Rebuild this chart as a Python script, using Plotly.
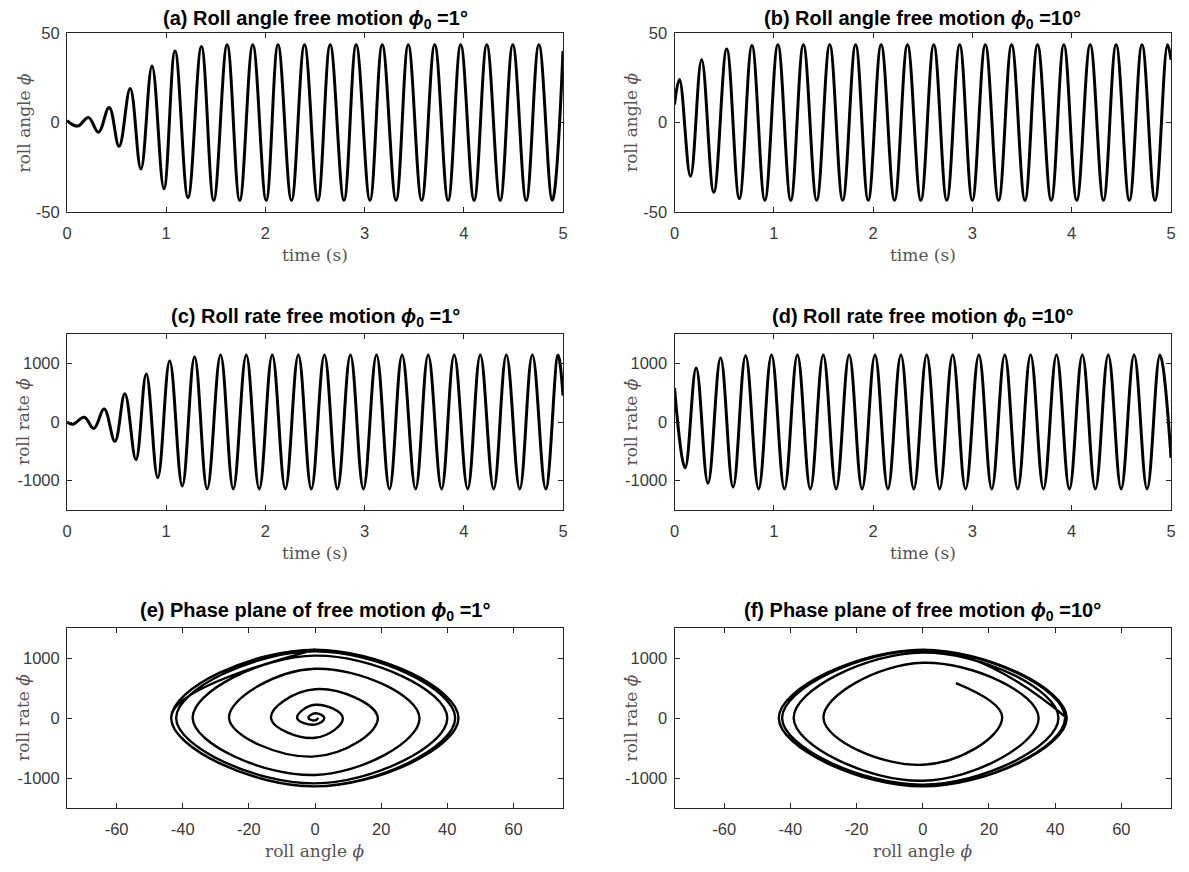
import plotly.graph_objects as go

# page body has an 8 px margin, so the figure is drawn 8 px in and 8 px down
OFF = 8
W, H = 1189 - OFF, 872 - OFF

# ---------------- data ----------------
# (a) roll angle, phi0 = 1 deg : start, alternating extrema, end
a_time = [0, 0.108, 0.216, 0.317, 0.425, 0.525, 0.637, 0.745, 0.857, 0.977, 1.089,
          1.220, 1.355, 1.479, 1.614, 1.741, 1.873, 2.008, 2.127, 2.263, 2.394, 2.529,
          2.653, 2.792, 2.915, 3.054, 3.178, 3.317, 3.440, 3.575, 3.707, 3.842, 3.969,
          4.104, 4.232, 4.367, 4.494, 4.629, 4.757, 4.892, 5.0]
a_phi = [1, -2, 2.8, -5.4, 8.4, -13.3, 19, -26, 31.6, -37, 40,
         -42, 42.4, -43.5, 43.4, -43.5, 43.4, -43.5, 43.4, -43.5, 43.4, -43.5,
         43.4, -43.5, 43.4, -43.5, 43.4, -43.5, 43.4, -43.5, 43.4, -43.5, 43.4,
         -43.5, 43.4, -43.5, 43.4, -43.5, 43.4, -43.5, 40]

# (c) roll rate, phi0 = 1 deg
c_time = [0, 0.058, 0.174, 0.270, 0.375, 0.483, 0.583, 0.695, 0.799, 0.915, 1.035,
          1.162, 1.286, 1.413, 1.548, 1.676, 1.807, 1.938, 2.069, 2.201, 2.332, 2.463,
          2.595, 2.726, 2.857, 2.988, 3.120, 3.251, 3.378, 3.514, 3.641, 3.776, 3.903,
          4.039, 4.166, 4.301, 4.429, 4.564, 4.691, 4.826, 4.950, 5.0]
c_rate = [0, -40, 80, -110, 220, -330, 480, -640, 820, -950, 1040,
          -1090, 1110, -1140, 1140, -1140, 1140, -1140, 1140, -1140, 1140, -1140,
          1140, -1140, 1140, -1140, 1140, -1140, 1140, -1140, 1140, -1140, 1140,
          -1140, 1140, -1140, 1140, -1140, 1140, -1140, 1140, 450]

# (b) roll angle, phi0 = 10 deg
b_time = [0, 0.050, 0.161, 0.273, 0.396, 0.526, 0.653, 0.780, 0.910, 1.041, 1.171,
          1.298, 1.432, 1.563, 1.694, 1.824, 1.951, 2.081, 2.216, 2.346, 2.481, 2.611,
          2.742, 2.872, 2.999, 3.130, 3.264, 3.395, 3.529, 3.656, 3.794, 3.921, 4.051,
          4.186, 4.320, 4.447, 4.581, 4.708, 4.839, 4.965, 5.0]
b_phi = [10, 24, -30, 35, -39, 41, -42.5, 43, -43.5, 43.5, -43.5,
         43.5, -43.5, 43.5, -43.5, 43.5, -43.5, 43.5, -43.5, 43.5, -43.5, 43.5,
         -43.5, 43.5, -43.5, 43.5, -43.5, 43.5, -43.5, 43.5, -43.5, 43.5, -43.5,
         43.5, -43.5, 43.5, -43.5, 43.5, -43.5, 43.5, 35]

# (d) roll rate, phi0 = 10 deg
d_time = [0, 0.107, 0.218, 0.337, 0.464, 0.590, 0.716, 0.847, 0.977, 1.107, 1.238,
          1.368, 1.498, 1.628, 1.759, 1.889, 2.019, 2.149, 2.280, 2.410, 2.540, 2.670,
          2.801, 2.931, 3.065, 3.195, 3.326, 3.456, 3.586, 3.716, 3.847, 3.977, 4.107,
          4.238, 4.368, 4.498, 4.628, 4.759, 4.889, 5.0]
d_rate = [580, -780, 920, -1045, 1090, -1110, 1130, -1140, 1140, -1140, 1140,
          -1140, 1140, -1140, 1140, -1140, 1140, -1140, 1140, -1140, 1140, -1140,
          1140, -1140, 1140, -1140, 1140, -1140, 1140, -1140, 1140, -1140, 1140,
          -1140, 1140, -1140, 1140, -1140, 1140, -610]

time_ticks = [0, 1, 2, 3, 4, 5]
time_tick_text = ["0", "1", "2", "3", "4", "5"]
angle_ticks = [-50, 0, 50]
angle_tick_text = ["-50", "0", "50"]
rate_ticks = [-1000, 0, 1000]
rate_tick_text = ["-1000", "0", "1000"]
phase_x_ticks = [-60, -40, -20, 0, 20, 40, 60]
phase_x_tick_text = ["-60", "-40", "-20", "0", "20", "40", "60"]

titles = [
    "(a) Roll angle free motion <i>ϕ</i><sub>0</sub> =1°",
    "(b) Roll angle free motion <i>ϕ</i><sub>0</sub> =10°",
    "(c) Roll rate free motion <i>ϕ</i><sub>0</sub> =1°",
    "(d) Roll rate free motion <i>ϕ</i><sub>0</sub> =10°",
    "(e) Phase plane of free motion <i>ϕ</i><sub>0</sub> =1°",
    "(f) Phase plane of free motion <i>ϕ</i><sub>0</sub> =10°",
]
x_labels = ["time (s)", "time (s)", "time (s)", "time (s)",
            "roll angle <i>ϕ</i>", "roll angle <i>ϕ</i>"]
y_labels = ["roll angle <i>ϕ</i>", "roll angle <i>ϕ</i>",
            "roll rate <i>ϕ̇</i>", "roll rate <i>ϕ̇</i>",
            "roll rate <i>ϕ̇</i>", "roll rate <i>ϕ̇</i>"]


def phase_points(t_ang, ang, t_rate, rate):
    """Merge angle extrema (rate = 0 there) and rate extrema (angle = 0 there) in time order."""
    ev = [(t_ang[0], ang[0], rate[0])]
    ev += [(t_ang[i], ang[i], 0.0) for i in range(1, len(t_ang) - 1)]
    ev += [(t_rate[i], 0.0, rate[i]) for i in range(1, len(t_rate) - 1)]
    ev.sort(key=lambda e: e[0])
    return [e[1] for e in ev], [e[2] for e in ev]


e_x, e_y = phase_points(a_time, a_phi, c_time, c_rate)
f_x, f_y = phase_points(b_time, b_phi, d_time, d_rate)

# ---------------- layout geometry (pixels in the reference) ----------------
cols = [(67, 563), (674.5, 1171)]
rows = [(33, 212), (334, 510), (628, 808)]
title_gap = [-1, 2, 2]


def px(v):
    return (v - OFF) / W


def py(v):
    return 1 - (v - OFF) / H


fig = go.Figure()

series = [
    (a_time, a_phi, 1.1, 3.0),
    (b_time, b_phi, 1.1, 3.0),
    (c_time, c_rate, 1.1, 3.0),
    (d_time, d_rate, 1.1, 3.0),
    (e_x, e_y, 1.3, 2.4),
    (f_x, f_y, 1.3, 2.4),
]

axis_col = "#262626"
tick_font = dict(family="Liberation Sans, Arial, sans-serif", size=16.5, color="#3a3a3a")
label_font = dict(family="DejaVu Serif, serif", size=17, color="#555555")
title_font = dict(family="Liberation Sans, Arial, sans-serif", size=20, color="#000000")

annotations = []
for k in range(6):
    r, c = divmod(k, 2)
    x0, x1 = cols[c]
    ytop, ybot = rows[r]
    xs, ys, sm, lw = series[k]
    fig.add_trace(go.Scatter(
        x=xs, y=ys, mode="lines",
        line=dict(color="black", width=lw, shape="spline", smoothing=sm),
        xaxis=f"x{k+1}", yaxis=f"y{k+1}", showlegend=False, hoverinfo="skip"))

    if r < 2:
        xr, xt, xtt = [0, 5], time_ticks, time_tick_text
    else:
        xr, xt, xtt = [-75, 75], phase_x_ticks, phase_x_tick_text
    if r == 0:
        yr, yt, ytt = [-50, 50], angle_ticks, angle_tick_text
    else:
        yr, yt, ytt = [-1500, 1500], rate_ticks, rate_tick_text

    common = dict(showline=True, linecolor=axis_col, linewidth=1, mirror="ticks",
                  ticks="inside", ticklen=5, tickwidth=1, tickcolor=axis_col,
                  showgrid=False, zeroline=False, tickfont=tick_font, fixedrange=True,
                  automargin=False)
    fig.layout[f"xaxis{k+1}"] = dict(domain=[px(x0), px(x1)], range=xr, tickvals=xt,
                                     ticktext=xtt, anchor=f"y{k+1}",
                                     ticklabelstandoff=6, **common)
    fig.layout[f"yaxis{k+1}"] = dict(domain=[py(ybot), py(ytop)], range=yr,
                                     tickvals=yt, ticktext=ytt, anchor=f"x{k+1}",
                                     ticklabelstandoff=3, **common)

    xc = px((x0 + x1) / 2)
    annotations.append(dict(text=f"<b>{titles[k]}</b>", x=xc, y=py(ytop - title_gap[r]),
                            xref="paper", yref="paper", xanchor="center", yanchor="bottom",
                            showarrow=False, font=title_font))
    annotations.append(dict(text=x_labels[k], x=xc, y=py(ybot + 43),
                            xref="paper", yref="paper", xanchor="center", yanchor="middle",
                            showarrow=False, font=label_font))
    annotations.append(dict(text=y_labels[k], x=px(x0 - 44), y=py((ytop + ybot) / 2),
                            xref="paper", yref="paper", xanchor="center", yanchor="middle",
                            textangle=-90, showarrow=False, font=label_font))

fig.update_layout(width=W, height=H, margin=dict(l=0, r=0, t=0, b=0),
                  paper_bgcolor="white", plot_bgcolor="white",
                  annotations=annotations)

fig.write_html("out.html")
